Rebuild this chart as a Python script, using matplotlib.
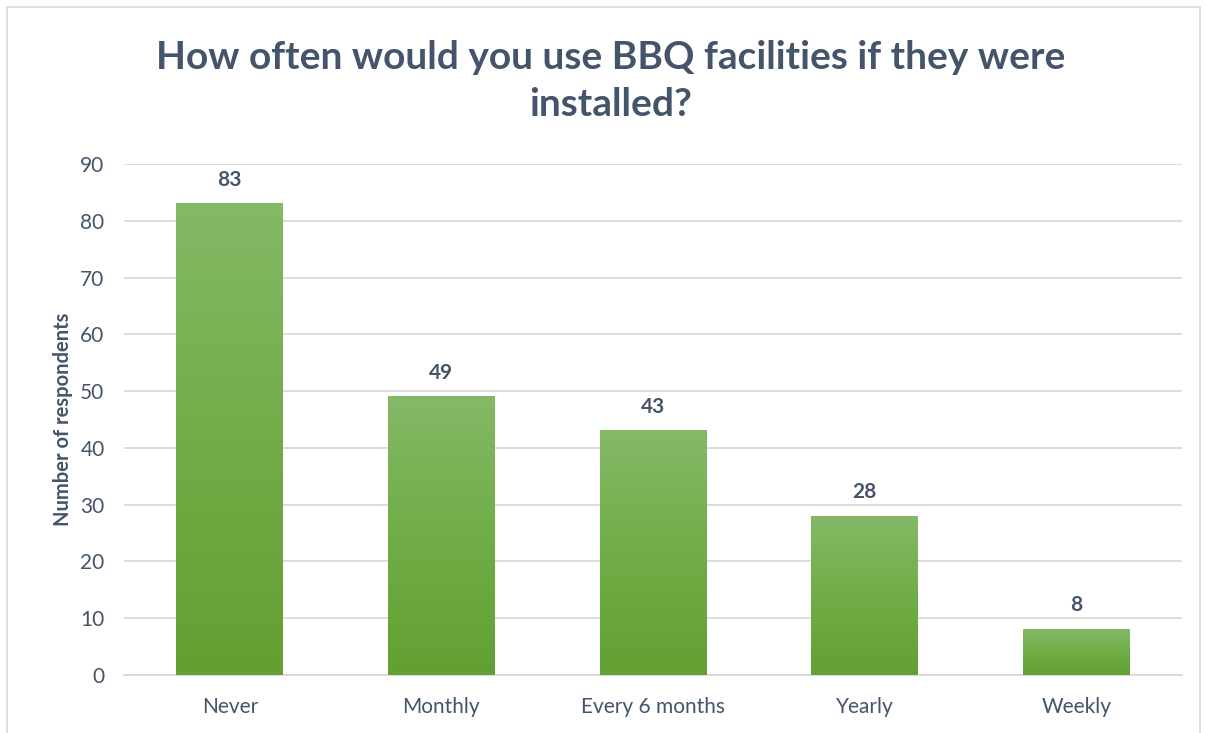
import numpy as np
import matplotlib.pyplot as plt
from matplotlib.patches import Rectangle

# Survey data
categories = ["Never", "Monthly", "Every 6 months", "Yearly", "Weekly"]
respondents = [83, 49, 43, 28, 8]
yticks = [0, 10, 20, 30, 40, 50, 60, 70, 80, 90]

text_col = "#44546A"
grid_col = "#D9D9D9"
plt.rcParams["font.family"] = ["Lato", "DejaVu Sans"]

fig = plt.figure(figsize=(12.06, 7.33), dpi=100)
ax = fig.add_axes([0.1028, 0.0791, 0.8773, 0.6972])

# vertical gradient, light green at top to darker at bottom
grad = np.linspace(0, 1, 256).reshape(-1, 1)
cmap = plt.matplotlib.colors.LinearSegmentedColormap.from_list(
    "g", ["#62A033", "#70AD47", "#84B966"])

x = np.arange(len(categories))
width = 0.505
for xi, v in zip(x, respondents):
    ax.imshow(grad, extent=(xi - width / 2, xi + width / 2, 0, v), origin="lower",
              cmap=cmap, aspect="auto", zorder=3)
    ax.text(xi, v + 2.5, str(v), ha="center", va="bottom", fontsize=15,
            fontweight="bold", color=text_col)

ax.set_xlim(-0.5, len(categories) - 0.5)
ax.set_ylim(0, 90)
ax.set_xticks(x)
ax.set_xticklabels(categories, fontsize=15, color=text_col)
ax.set_yticks(yticks)
ax.set_yticklabels([str(t) for t in yticks], fontsize=15, color=text_col)
ax.tick_params(length=0)
ax.tick_params(axis="y", pad=14)
ax.tick_params(axis="x", pad=16)
ax.grid(axis="y", color=grid_col, linewidth=1.3, zorder=0)
ax.set_axisbelow(True)
for s in ["top", "right", "left"]:
    ax.spines[s].set_visible(False)
ax.spines["bottom"].set_color(grid_col)
ax.spines["bottom"].set_linewidth(1.3)

ax.set_ylabel("Number of respondents", fontsize=14.5, fontweight="bold",
              color=text_col, labelpad=5)

fig.text(0.506, 0.889, "How often would you use BBQ facilities if they were\ninstalled?",
         ha="center", va="center", fontsize=28, fontweight="bold", color=text_col,
         linespacing=1.42)

# outer chart border
fig.add_artist(Rectangle((0.006, -0.01), 0.989, 1.0, transform=fig.transFigure,
                         fill=False, edgecolor="#D9D9D9", linewidth=1.2))

plt.savefig("out.png", dpi=100)
